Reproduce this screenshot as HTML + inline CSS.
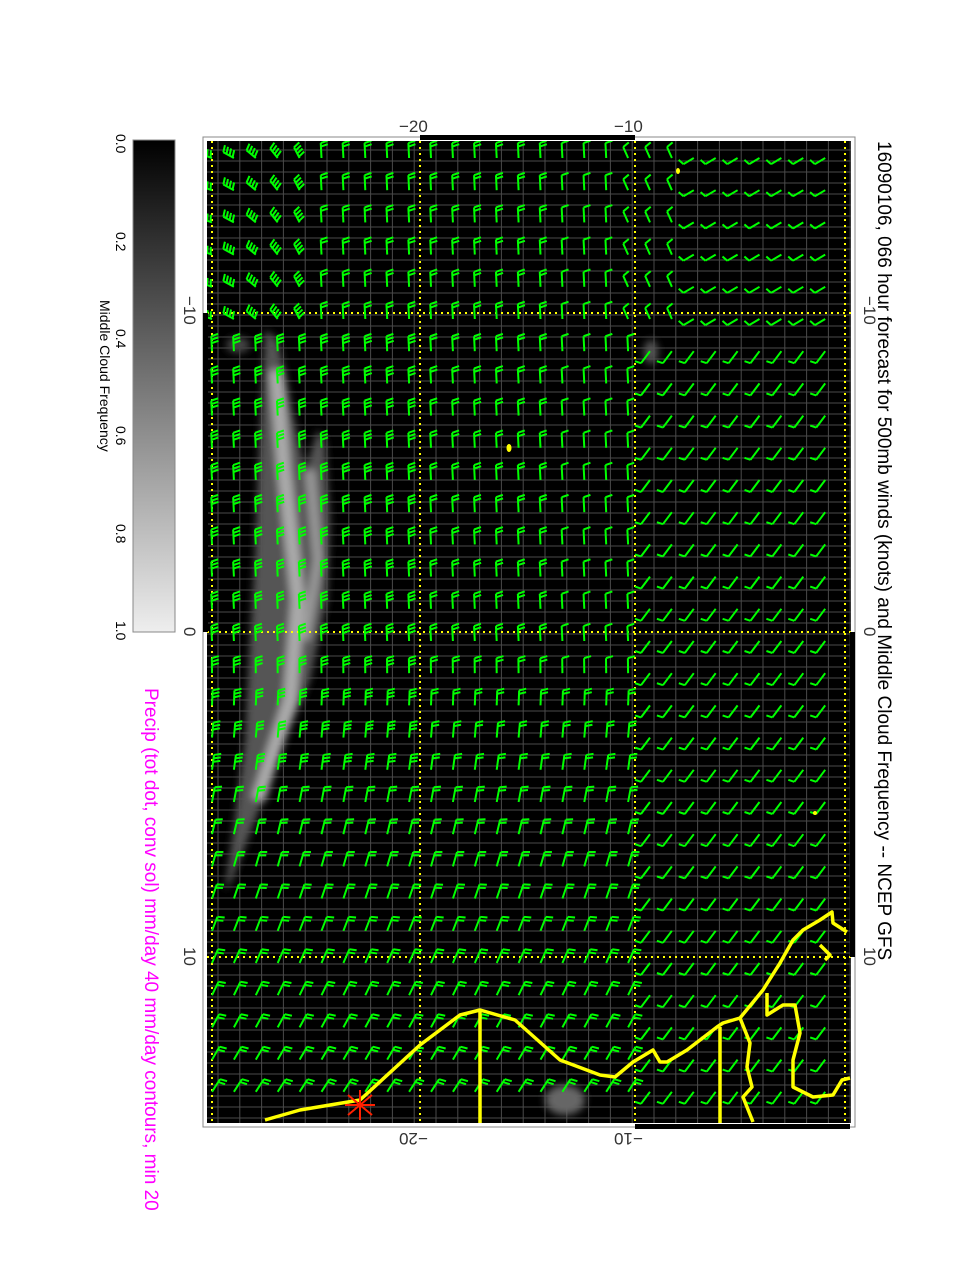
<!DOCTYPE html>
<html><head><meta charset="utf-8">
<style>
body{margin:0;background:#fff;width:978px;height:1265px;overflow:hidden;position:relative;font-family:"Liberation Sans",sans-serif}
.r{position:absolute;transform-origin:0 0;transform:rotate(90deg);white-space:nowrap;line-height:1}
.u{position:absolute;white-space:nowrap;line-height:1}
.d{position:absolute;white-space:nowrap;line-height:1;transform:rotate(180deg)}
</style></head><body>
<svg id="s" width="978" height="1265" style="position:absolute;left:0;top:0">
<defs>
<linearGradient id="cb" x1="0" y1="0" x2="0" y2="1"><stop offset="0" stop-color="#000"/><stop offset="1" stop-color="#eee"/></linearGradient>
<filter id="bl"><feGaussianBlur stdDeviation="4"/></filter>
<clipPath id="cp"><rect x="207" y="141" width="644" height="982"/></clipPath>
</defs>
<rect x="133" y="140" width="42" height="492" fill="url(#cb)" stroke="#888"/>
<rect x="203" y="137" width="652" height="990" fill="#fff" stroke="#888"/>
<rect x="207" y="141" width="644" height="982" fill="#000"/>
<g clip-path="url(#cp)">
<g id="grid" stroke="#4a4a4a" stroke-width="1"></g>
<g filter="url(#bl)">
<polygon fill="#555" points="265,330 262,400 258,480 255,560 250,640 248,680 245,740 235,820 225,890 232,880 255,820 285,740 310,680 327,600 330,520 325,440 318,430 305,470 290,400 278,340"/>
<path d="M276,370 L284,470 L298,600 L290,700 L258,800" stroke="#aaa" stroke-width="14" fill="none"/>
<path d="M310,470 L318,560 L305,640" stroke="#999" stroke-width="10" fill="none"/>
<ellipse cx="238" cy="345" rx="12" ry="8" fill="#444"/>
<ellipse cx="651" cy="352" rx="7" ry="12" fill="#555"/>
<ellipse cx="565" cy="1100" rx="20" ry="15" fill="#666"/>
</g>
<g stroke="#ffff00" stroke-width="2" stroke-dasharray="2,4">
<line x1="420" y1="141" x2="420" y2="1123"/><line x1="635" y1="141" x2="635" y2="1123"/>
<line x1="212" y1="141" x2="212" y2="1123"/><line x1="845" y1="141" x2="845" y2="1123"/>
<line x1="207" y1="313" x2="851" y2="313"/><line x1="207" y1="632" x2="851" y2="632"/><line x1="207" y1="957" x2="851" y2="957"/>
</g>
<g id="barbs" stroke="#00ff00" stroke-width="2" fill="#00ff00"></g>
<g stroke="#ffff00" stroke-width="3.5" fill="none" stroke-linejoin="round">
<path d="M265,1120 L300,1110 L360,1100 L420,1045 L460,1015 L480,1010 L515,1020 L560,1060 L600,1075 L615,1077 L633,1062 L653,1050 L660,1062 L667,1062 L687,1050 L717,1027 L723,1023 L740,1018 L763,990 L780,963 L793,940 L803,930 L820,920 L832,912 L833,923 L847,932"/>
<path d="M480,1010 L480,1123"/>
<path d="M720,1027 L720,1123"/>
<path d="M740,1018 L750,1043 L747,1067 L752,1087 L743,1097 L753,1122"/>
<path d="M767,993 L767,1015 L783,1005 L795,1005 L800,1033 L793,1060 L793,1087 L813,1097 L833,1095 L842,1080 L850,1078"/>
<path d="M820,945 L830,955 L825,960"/>
</g>
</g>
<ellipse cx="678" cy="171" rx="2" ry="3" fill="#ff0"/>
<ellipse cx="509" cy="448" rx="2.5" ry="4" fill="#ff0"/>
<ellipse cx="815" cy="813" rx="2" ry="2" fill="#ff0"/>
<g stroke="#ff2000" stroke-width="2"><line x1="348" y1="1095" x2="372" y2="1115"/><line x1="372" y1="1095" x2="348" y2="1115"/><line x1="360" y1="1090" x2="360" y2="1120"/><line x1="345" y1="1105" x2="375" y2="1105"/></g>
<g fill="#000"><rect x="420" y="135" width="215" height="5"/><rect x="203" y="313" width="5" height="319"/><rect x="850" y="632" width="5" height="325"/><rect x="635" y="1124" width="215" height="5"/></g>
</svg>
<div class="r" style="left:893px;top:141px;font-size:19px">16090106, 066 hour forecast for 500mb winds (knots) and Middle Cloud Frequency -- NCEP GFS</div>
<div class="r" style="left:160px;top:688px;font-size:19px;color:#ff00ff">Precip (tot dot, conv sol) mm/day 40 mm/day contours, min 20</div>
<div class="r" style="left:112px;top:300px;font-size:14px">Middle Cloud Frequency</div>
<div class="r" style="left:128px;top:134px;font-size:14px">0.0</div>
<div class="r" style="left:128px;top:232px;font-size:14px">0.2</div>
<div class="r" style="left:128px;top:329px;font-size:14px">0.4</div>
<div class="r" style="left:128px;top:426px;font-size:14px">0.6</div>
<div class="r" style="left:128px;top:524px;font-size:14px">0.8</div>
<div class="r" style="left:128px;top:621px;font-size:14px">1.0</div>
<div class="r" style="left:198px;top:296px;font-size:17px;color:#333">−10</div>
<div class="r" style="left:198px;top:627px;font-size:17px;color:#333">0</div>
<div class="r" style="left:198px;top:947px;font-size:17px;color:#333">10</div>
<div class="r" style="left:878px;top:296px;font-size:17px;color:#333">−10</div>
<div class="r" style="left:878px;top:627px;font-size:17px;color:#333">0</div>
<div class="r" style="left:878px;top:947px;font-size:17px;color:#333">10</div>
<div class="u" style="left:399px;top:118px;font-size:17px;color:#333">−20</div>
<div class="u" style="left:614px;top:118px;font-size:17px;color:#333">−10</div>
<div class="d" style="left:399px;top:1130px;font-size:17px;color:#333">−20</div>
<div class="d" style="left:614px;top:1130px;font-size:17px;color:#333">−10</div>
<script>
var NS="http://www.w3.org/2000/svg";
function el(p,t,a){var e=document.createElementNS(NS,t);for(var k in a)e.setAttribute(k,a[k]);p.appendChild(e);}
var g=document.getElementById('grid');
for(var x=218;x<851;x+=21.8)el(g,'line',{x1:x,y1:141,x2:x,y2:1123});
for(var y=150;y<1123;y+=11)el(g,'line',{x1:207,y1:y,x2:851,y2:y});
var b=document.getElementById('barbs');
for(var r=0;r<30;r++){for(var c=0;c<29;c++){
 var cx=212+c*21.9, cy=158+r*32.2, dx,dy,n,L=15,bl=7;
 if(cx>690||(cx>640&&cy>330)){dx=-0.6;dy=0.8;n=1;bl=6;
   if(cy<330){dx=-0.85;dy=0.5;L=12;}}
 else if(cx>620&&cy<330){dx=-0.4;dy=-0.9;n=1;L=12;}
 else if(cy<330&&cx<320){var f=(cx-212)/108;dx=-0.9*(1-f)-0.3*f;dy=-0.3-0.6*f;n=4;L=12;}
 else {var t=Math.max(0,(cy-650)/450);dx=-0.05+0.7*t;dy=-1;n=(cx<420&&cy>330&&cy<800)?3:2;if(cx>560&&cy<700)n=1;}
 var m=Math.hypot(dx,dy);dx/=m;dy/=m;
 var ex=cx+dx*L,ey=cy+dy*L;
 el(b,'line',{x1:cx,y1:cy,x2:ex,y2:ey});
 var px=-dy,py=dx;
 for(var i=0;i<n;i++){var sx=ex-dx*i*3.5,sy=ey-dy*i*3.5;
  el(b,'line',{x1:sx,y1:sy,x2:sx+px*bl+dx*2,y2:sy+py*bl+dy*2});}
}}
</script>
</body></html>
